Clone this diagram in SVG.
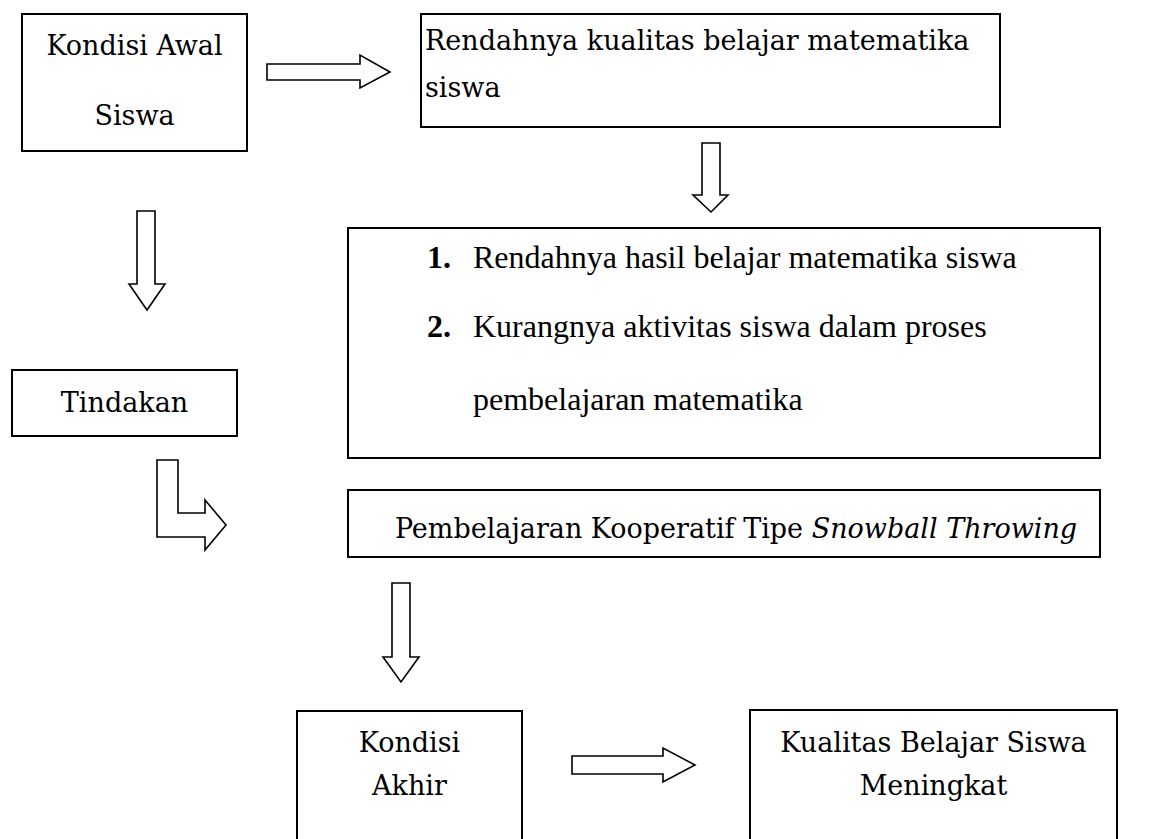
<svg xmlns="http://www.w3.org/2000/svg" width="1159" height="839" viewBox="0 0 1159 839">
<style>
.box{fill:#fff;stroke:#000;stroke-width:2}
.arr{fill:#fff;stroke:#000;stroke-width:1.6;stroke-linejoin:miter}
.c{font-family:"DejaVu Serif","Liberation Serif",serif;font-size:27px;fill:#000}
.t{font-family:"Liberation Serif","Times New Roman",serif;font-size:32px;fill:#000}
.m{text-anchor:middle}
</style>
<rect width="1159" height="839" fill="#fff"/>
<g id="connectors">
<polygon class="arr" points="267,64 360,64 360,55 390,72 360,88 360,80 267,80"/>
<polygon class="arr" points="702,143 720,143 720,195 728,195 711,212 693,195 702,195"/>
<polygon class="arr" points="137,211 155,211 155,284 165,284 147,310 129,284 137,284"/>
<polygon class="arr" points="157,460 178,460 178,513 205,513 205,500 226,525 205,550 205,537 157,537"/>
<polygon class="arr" points="392,583 410,583 410,657 419,657 401,682 383,657 392,657"/>
<polygon class="arr" points="572,756 663,756 663,748 695,765 663,782 663,774 572,774"/>
</g>
<g id="kondisi-awal">
<rect class="box" x="22" y="14" width="225" height="137"/>
<text class="c m" x="134.5" y="55">Kondisi Awal</text>
<text class="c m" x="134.5" y="125">Siswa</text>
</g>
<g id="rendahnya-kualitas">
<rect class="box" x="421" y="14" width="579" height="113"/>
<text class="c" x="425" y="50">Rendahnya kualitas belajar matematika</text>
<text class="c" x="425" y="97">siswa</text>
</g>
<g id="masalah">
<rect class="box" x="348" y="228" width="752" height="230"/>
<text class="t" x="427" y="268" font-weight="bold">1.</text>
<text class="t" x="473" y="268">Rendahnya hasil belajar matematika siswa</text>
<text class="t" x="427" y="337" font-weight="bold">2.</text>
<text class="t" x="473" y="337">Kurangnya aktivitas siswa dalam proses</text>
<text class="t" x="473" y="410">pembelajaran matematika</text>
</g>
<g id="tindakan">
<rect class="box" x="12" y="370" width="225" height="66"/>
<text class="c m" x="124.5" y="412">Tindakan</text>
</g>
<g id="snowball">
<rect class="box" x="348" y="490" width="752" height="67"/>
<text class="c m" x="736" y="538">Pembelajaran Kooperatif Tipe <tspan font-style="italic">Snowball Throwing</tspan></text>
</g>
<g id="kondisi-akhir">
<rect class="box" x="297" y="711" width="225" height="150"/>
<text class="c m" x="409.5" y="752">Kondisi</text>
<text class="c m" x="409.5" y="795">Akhir</text>
</g>
<g id="kualitas-meningkat">
<rect class="box" x="750" y="710" width="367" height="150"/>
<text class="c m" x="933.5" y="752">Kualitas Belajar Siswa</text>
<text class="c m" x="933.5" y="795">Meningkat</text>
</g>
</svg>
